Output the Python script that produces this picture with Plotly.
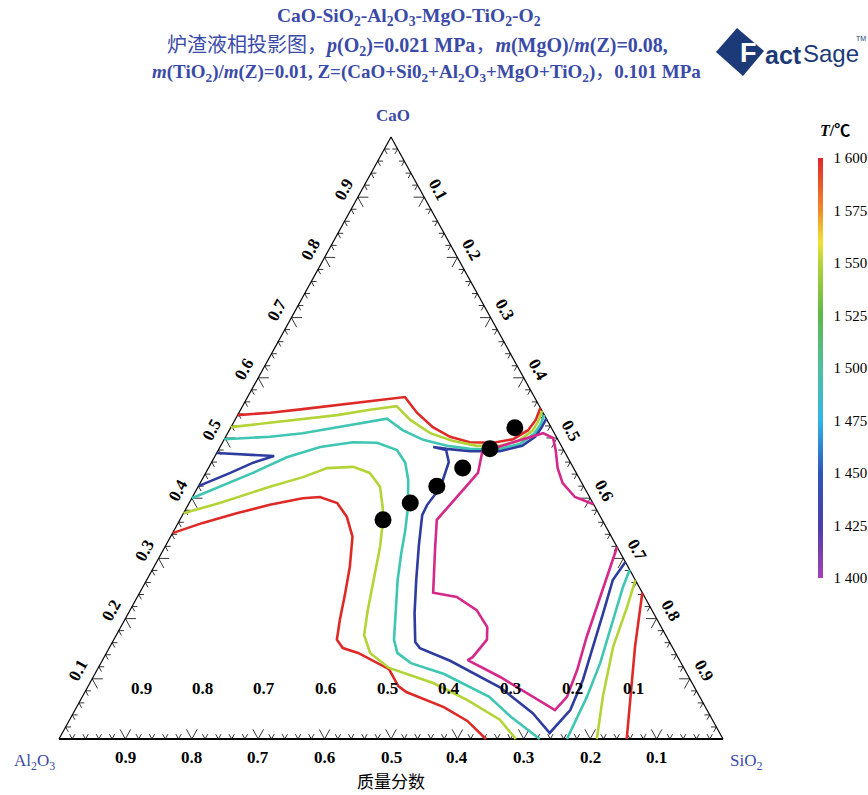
import plotly.graph_objects as go

# ---------------------------------------------------------------------------
# Isotherm data: mass fractions (CaO, SiO2); Al2O3 = 1 - CaO - SiO2
# ---------------------------------------------------------------------------
T1600_UPPER_CAO = [0.538, 0.542, 0.548, 0.555, 0.562, 0.568, 0.542, 0.518, 0.502, 0.493, 0.492, 0.498, 0.513, 0.530, 0.550]
T1600_UPPER_SIO2 = [0.000, 0.047, 0.093, 0.141, 0.188, 0.237, 0.268, 0.304, 0.338, 0.372, 0.408, 0.435, 0.450, 0.453, 0.450]

T1550_UPPER_CAO = [0.518, 0.525, 0.532, 0.538, 0.547, 0.553, 0.530, 0.508, 0.495, 0.487, 0.487, 0.495, 0.512, 0.527, 0.545]
T1550_UPPER_SIO2 = [0.000, 0.055, 0.102, 0.150, 0.195, 0.232, 0.264, 0.305, 0.346, 0.386, 0.421, 0.444, 0.457, 0.458, 0.455]

T1500_UPPER_CAO = [0.498, 0.502, 0.508, 0.518, 0.528, 0.532, 0.513, 0.497, 0.487, 0.482, 0.480, 0.490, 0.507, 0.522, 0.538]
T1500_UPPER_SIO2 = [0.000, 0.067, 0.113, 0.160, 0.204, 0.228, 0.261, 0.300, 0.341, 0.378, 0.417, 0.449, 0.462, 0.464, 0.462]

T1450_MAIN_CAO = [0.532, 0.517, 0.502, 0.487, 0.478, 0.478, 0.482, 0.485, 0.480, 0.460, 0.430, 0.410, 0.389, 0.372,
                  0.322, 0.264, 0.209, 0.161, 0.151, 0.130, 0.086, 0.043, 0.010, 0.048, 0.098, 0.153, 0.209, 0.264, 0.294]
T1450_MAIN_SIO2 = [0.468, 0.468, 0.466, 0.454, 0.425, 0.380, 0.343, 0.321, 0.343, 0.357, 0.363, 0.364, 0.360, 0.361,
                   0.381, 0.406, 0.431, 0.456, 0.468, 0.524, 0.621, 0.692, 0.734, 0.746, 0.740, 0.728, 0.715, 0.702, 0.706]

T1450_LEFT_CAO = [0.475, 0.472, 0.470, 0.459, 0.442, 0.420]
T1450_LEFT_SIO2 = [0.000, 0.047, 0.089, 0.063, 0.037, 0.000]

T1500_LOWER_CAO = [0.400, 0.419, 0.442, 0.468, 0.485, 0.493, 0.492, 0.480, 0.459, 0.430, 0.385, 0.347, 0.309, 0.264,
                   0.214, 0.165, 0.143, 0.126, 0.108, 0.070, 0.037, 0.000]
T1500_LOWER_SIO2 = [0.000, 0.033, 0.071, 0.109, 0.151, 0.196, 0.233, 0.269, 0.292, 0.311, 0.333, 0.348, 0.361, 0.378,
                    0.400, 0.422, 0.438, 0.467, 0.526, 0.613, 0.662, 0.724]

T1500_RIGHT_CAO = [0.000, 0.070, 0.126, 0.198, 0.253, 0.281]
T1500_RIGHT_SIO2 = [0.765, 0.760, 0.752, 0.736, 0.723, 0.719]

T1550_LOWER_CAO = [0.375, 0.392, 0.419, 0.435, 0.450, 0.452, 0.442, 0.419, 0.385, 0.364, 0.319, 0.264, 0.214, 0.173,
                   0.143, 0.118, 0.093, 0.065, 0.032, 0.000]
T1550_LOWER_SIO2 = [0.000, 0.046, 0.108, 0.150, 0.179, 0.217, 0.247, 0.274, 0.295, 0.306, 0.324, 0.342, 0.358, 0.373,
                    0.397, 0.438, 0.517, 0.582, 0.648, 0.688]

T1550_RIGHT_CAO = [0.000, 0.070, 0.153, 0.219, 0.264]
T1550_RIGHT_SIO2 = [0.810, 0.784, 0.758, 0.746, 0.736]

T1600_LOWER_CAO = [0.342, 0.359, 0.375, 0.389, 0.400, 0.402, 0.392, 0.369, 0.336, 0.286, 0.239, 0.198, 0.165, 0.151,
                   0.143, 0.116, 0.088, 0.078, 0.053, 0.030, 0.000]
T1600_LOWER_SIO2 = [0.000, 0.037, 0.080, 0.123, 0.167, 0.192, 0.223, 0.249, 0.274, 0.295, 0.311, 0.324, 0.336, 0.352,
                    0.379, 0.439, 0.467, 0.484, 0.553, 0.600, 0.643]

T1600_RIGHT_CAO = [0.000, 0.065, 0.153, 0.243]
T1600_RIGHT_SIO2 = [0.855, 0.828, 0.791, 0.757]

T1400_CAO = [0.390, 0.402, 0.425, 0.450, 0.480, 0.500, 0.508, 0.488, 0.477, 0.442, 0.409, 0.364, 0.319, 0.243, 0.236,
             0.214, 0.186, 0.165, 0.136, 0.131, 0.103, 0.070, 0.048, 0.070, 0.115, 0.169, 0.236, 0.297, 0.319]
T1400_SIO2 = [0.610, 0.576, 0.546, 0.526, 0.508, 0.494, 0.475, 0.424, 0.399, 0.410, 0.400, 0.387, 0.407, 0.442, 0.481,
              0.522, 0.552, 0.562, 0.555, 0.550, 0.613, 0.679, 0.723, 0.730, 0.723, 0.710, 0.697, 0.686, 0.681]

# experimental slag compositions
POINT_CAO = [0.364, 0.392, 0.420, 0.450, 0.482, 0.517]
POINT_SIO2 = [0.306, 0.333, 0.359, 0.383, 0.408, 0.428]

# colour bar
CBAR_TICKS = [1400, 1425, 1450, 1475, 1500, 1525, 1550, 1575, 1600]
CBAR_LABELS = ["1 400", "1 425", "1 450", "1 475", "1 500", "1 525", "1 550", "1 575", "1 600"]
EDGE_TICKS = [0.1, 0.2, 0.3, 0.4, 0.5, 0.6, 0.7, 0.8, 0.9]
EDGE_LABELS = ["0.1", "0.2", "0.3", "0.4", "0.5", "0.6", "0.7", "0.8", "0.9"]

# ---------------------------------------------------------------------------
W, H = 868, 795
LEFT_PX, RIGHT_PX = 59, 723      # Al2O3 / SiO2 corners
BASE_PX, APEX_PX = 739, 137      # baseline / CaO apex
SPAN_X = RIGHT_PX - LEFT_PX
SPAN_Y = BASE_PX - APEX_PX

TITLE_BLUE = "#3a4aa8"
LOGO_BLUE = "#1d3a78"
SERIF = "Liberation Serif, Times New Roman, Noto Sans CJK SC, serif"
SANS = "Liberation Sans, Arial, sans-serif"
COLORS = {1600: "#de2a27", 1550: "#b3d437", 1500: "#3fc6b3", 1450: "#2d3c9e", 1400: "#d4288a"}


def to_xy(cao, sio2):
    """Project a (CaO, SiO2) composition onto the triangle plane."""
    return [s + c / 2 for c, s in zip(cao, sio2)], list(cao)


def paper(px, py):
    return px / W, 1 - py / H


fig = go.Figure()

# triangle frame
for (c0, s0), (c1, s1), wd in [((0, 0), (1, 0), 1.2), ((1, 0), (0, 1), 1.2), ((0, 1), (0, 0), 2.2)]:
    x, y = to_xy([c0, c1], [s0, s1])
    fig.add_trace(go.Scatter(x=x, y=y, mode="lines", line=dict(color="black", width=wd),
                             hoverinfo="skip", showlegend=False))

# edge ticks: two short strokes parallel to the other two sides
tx, ty = [], []
for k in range(1, 50):
    v = k / 50
    L = 0.016 if k % 5 == 0 else 0.008
    segs = [((0, v), (L, v)), ((0, v), (L, v - L)),                       # base (SiO2 = v)
            ((v, 0), (v, L)), ((v, 0), (v - L, L)),                       # left side (CaO = v)
            ((1 - v, v), (1 - v, v - L)), ((1 - v, v), (1 - v - L, v))]   # right side (SiO2 = v)
    for (c0, s0), (c1, s1) in segs:
        x, y = to_xy([c0, c1], [s0, s1])
        tx += x + [None]
        ty += y + [None]
fig.add_trace(go.Scatter(x=tx, y=ty, mode="lines", line=dict(color="black", width=0.8),
                         hoverinfo="skip", showlegend=False))

# isotherms
segments = [
    (1600, T1600_UPPER_CAO, T1600_UPPER_SIO2), (1600, T1600_LOWER_CAO, T1600_LOWER_SIO2),
    (1600, T1600_RIGHT_CAO, T1600_RIGHT_SIO2),
    (1550, T1550_UPPER_CAO, T1550_UPPER_SIO2), (1550, T1550_LOWER_CAO, T1550_LOWER_SIO2),
    (1550, T1550_RIGHT_CAO, T1550_RIGHT_SIO2),
    (1500, T1500_UPPER_CAO, T1500_UPPER_SIO2), (1500, T1500_LOWER_CAO, T1500_LOWER_SIO2),
    (1500, T1500_RIGHT_CAO, T1500_RIGHT_SIO2),
    (1450, T1450_MAIN_CAO, T1450_MAIN_SIO2), (1450, T1450_LEFT_CAO, T1450_LEFT_SIO2),
    (1400, T1400_CAO, T1400_SIO2),
]
for temp, cao, sio2 in segments:
    x, y = to_xy(cao, sio2)
    fig.add_trace(go.Scatter(x=x, y=y, mode="lines", line=dict(color=COLORS[temp], width=2.6),
                             name=f"{temp} ℃", showlegend=False))

# sample points
px_, py_ = to_xy(POINT_CAO, POINT_SIO2)
fig.add_trace(go.Scatter(x=px_, y=py_, mode="markers", marker=dict(color="black", size=17),
                         showlegend=False))

# colour bar (temperature scale)
colorscale = [
    [0.000, "#a541b4"], [0.125, "#4a3ea6"], [0.250, "#2f55ba"], [0.375, "#31b5e6"],
    [0.500, "#4fc0a0"], [0.625, "#5db848"], [0.750, "#b5d23a"], [0.800, "#efe233"],
    [0.875, "#f08b2b"], [1.000, "#e0272a"],
]
fig.add_trace(go.Scatter(
    x=[None, None], y=[None, None], mode="markers", showlegend=False, hoverinfo="skip",
    marker=dict(color=[CBAR_TICKS[0], CBAR_TICKS[-1]], colorscale=colorscale,
                cmin=CBAR_TICKS[0], cmax=CBAR_TICKS[-1], showscale=True,
                colorbar=dict(x=818 / W, xanchor="left", xpad=0, ypad=0,
                              y=1 - 368 / H, yanchor="middle", len=420 / H, lenmode="fraction",
                              thickness=5, outlinewidth=0, ticks="outside", ticklen=8,
                              tickcolor="rgba(0,0,0,0)", tickvals=CBAR_TICKS, ticktext=CBAR_LABELS,
                              tickfont=dict(family=SERIF, size=15, color="black"))),
))

ann = []
# edge labels
for v, lab in zip(EDGE_TICKS, EDGE_LABELS):
    x, y = to_xy([v], [0])            # left side: CaO
    ann.append(dict(x=x[0], y=y[0], text=lab, xshift=-14, yshift=8, textangle=-61))
    x, y = to_xy([1 - v], [v])        # right side: SiO2
    ann.append(dict(x=x[0], y=y[0], text=lab, xshift=14, yshift=8, textangle=61))
    x, y = to_xy([0], [1 - v])        # base: Al2O3
    ann.append(dict(x=x[0], y=y[0], text=lab, yshift=-18))
    # second row of base labels drawn inside the triangle
    ix, iy = paper(141 + (0.9 - v) * 616, 688)
    ann.append(dict(x=ix, y=iy, xref="paper", yref="paper", text=lab))
for a in ann:
    a.setdefault("xref", "x")
    a.setdefault("yref", "y")
    a["text"] = "<b>" + a["text"] + "</b>"
    a.update(showarrow=False, xanchor="center", yanchor="middle",
             font=dict(family=SERIF, size=17, color="black"))


def text(px, py, s, size=19, color=TITLE_BLUE, family=SERIF, **kw):
    x, y = paper(px, py)
    d = dict(x=x, y=y, xref="paper", yref="paper", text=s, showarrow=False,
             xanchor="center", yanchor="middle", font=dict(family=family, size=size, color=color))
    d.update(kw)
    ann.append(d)


text(409, 17, "<b>CaO-SiO<sub>2</sub>-Al<sub>2</sub>O<sub>3</sub>-MgO-TiO<sub>2</sub>-O<sub>2</sub></b>", size=19.5)
text(417, 47, "炉渣液相投影图，<b><i>p</i>(O<sub>2</sub>)=0.021 MPa</b>，"
              "<b><i>m</i>(MgO)/<i>m</i>(Z)=0.08,</b>", size=20)
text(426, 73, "<b><i>m</i>(TiO<sub>2</sub>)/<i>m</i>(Z)=0.01, Z=(CaO+Si0<sub>2</sub>+Al<sub>2</sub>O<sub>3</sub>"
              "+MgO+TiO<sub>2</sub>)</b>，<b>0.101 MPa</b>", size=19)
text(393, 116, "<b>CaO</b>", size=17)
text(34, 762, "Al<sub>2</sub>O<sub>3</sub>", size=17)
text(746, 762, "SiO<sub>2</sub>", size=17)
text(391, 782, "质量分数", size=17, color="black")
text(835, 131, "<b><i>T</i>/℃</b>", size=16, color="black")

# FactSage mark: tilted square carrying a white "F"
lx = [p / W for p in (716, 737, 764, 743, 716)]
ly = [1 - p / H for p in (52, 28, 51, 76, 52)]
path = "M " + " L ".join(f"{a},{b}" for a, b in zip(lx, ly)) + " Z"
text(748, 53, "<b>F</b>", size=27, color="white", family=SANS)
text(763, 55, "<b>act</b>", size=25, color=LOGO_BLUE, family=SANS, xanchor="left")
text(801, 54, "Sage", size=24, color=LOGO_BLUE, family=SANS, xanchor="left")
text(861, 39, "TM", size=7, color=LOGO_BLUE, family=SANS)

fig.update_layout(
    width=W, height=H, margin=dict(l=0, r=0, t=0, b=0), autosize=False,
    paper_bgcolor="white", plot_bgcolor="white",
    xaxis=dict(range=[-LEFT_PX / SPAN_X, (W - LEFT_PX) / SPAN_X], visible=False, fixedrange=True),
    yaxis=dict(range=[-(H - BASE_PX) / SPAN_Y, BASE_PX / SPAN_Y], visible=False, fixedrange=True),
    annotations=ann,
    shapes=[dict(type="path", path=path, xref="paper", yref="paper",
                 fillcolor=LOGO_BLUE, line=dict(width=0), layer="below")],
)

fig.write_html("out.html", config={"displayModeBar": False})
